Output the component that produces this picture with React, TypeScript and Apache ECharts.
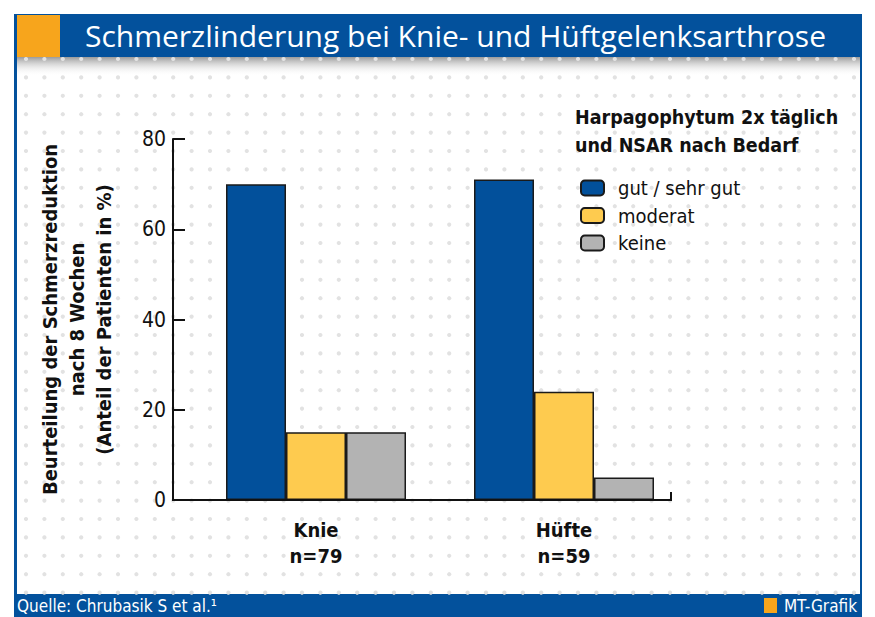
import React, { useEffect, useRef } from "react";
import * as echarts from "echarts";

const titleText = "Schmerzlinderung bei Knie- und Hüftgelenksarthrose";
const legendTitle = "Harpagophytum 2x täglich\nund NSAR nach Bedarf";
const yAxisName = "Beurteilung der Schmerzreduktion\nnach 8 Wochen\n(Anteil der Patienten in %)";
const sourceText = "Quelle: Chrubasik S et al.¹";
const creditText = "MT-Grafik";

const categories = ["Knie\nn=79", "Hüfte\nn=59"];
const seriesNames = ["gut / sehr gut", "moderat", "keine"];
const gutValues = [70, 71];
const moderatValues = [15, 24];
const keineValues = [15, 5];
const seriesColors = ["#02509b", "#fecb4f", "#b3b3b3"];

const BLUE = "#03519c";
const ORANGE = "#f7a51c";
const W = 875;
const H = 617;
const COND = "'Liberation Sans Narrow', 'DejaVu Sans Condensed', 'Roboto', sans-serif";

export default function App() {
  const ref = useRef<HTMLDivElement>(null);
  useEffect(() => {
    document.body.style.margin = "0";
    if (!ref.current) return;
    const chart = echarts.init(ref.current, null, { renderer: "svg" });

    const dots: any[] = [];
    for (let y = 59; y < 594; y += 18.4) {
      for (let x = 26; x < 860; x += 18.4) {
        dots.push({ type: "circle", shape: { cx: x, cy: y, r: 2.1 }, style: { fill: "#e2e2e2" }, silent: true });
      }
    }

    const gridLeft = 192;
    const gridRight = 187;
    const gridTop = 139;
    const gridBottom = 117;
    const axisX0 = 173;
    const axisX1 = 671;
    const axisY = H - gridBottom;

    const valueSets = [gutValues, moderatValues, keineValues];

    chart.setOption({
      animation: false,
      backgroundColor: "#ffffff",
      title: {
        text: titleText,
        left: 80,
        top: 15,
        textStyle: { color: "#ffffff", fontSize: 30, fontWeight: "normal", fontFamily: "'Open Sans', sans-serif" },
      },
      legend: {
        orient: "vertical",
        left: 580,
        top: 177,
        itemWidth: 23,
        itemHeight: 15,
        itemGap: 5.5,
        padding: 0,
        data: seriesNames,
        textStyle: { fontSize: 20, lineHeight: 22, color: "#111", fontFamily: COND, padding: [0, 0, 0, 9] },
      },
      grid: { left: gridLeft, right: gridRight, top: gridTop, bottom: gridBottom },
      xAxis: {
        type: "category",
        data: categories,
        axisLine: { show: false },
        axisTick: { show: false },
        axisLabel: { fontSize: 20, fontWeight: "bold", lineHeight: 26, margin: 17, color: "#111", fontFamily: COND },
      },
      yAxis: {
        type: "value",
        min: 0,
        max: 80,
        interval: 20,
        offset: gridLeft - axisX0,
        name: yAxisName,
        nameLocation: "middle",
        nameRotate: 90,
        nameGap: 56,
        nameTextStyle: { fontSize: 20, fontWeight: "bold", lineHeight: 27, color: "#111", fontFamily: COND, align: "center" },
        axisLine: { show: true, lineStyle: { color: "#111", width: 2 } },
        axisTick: { show: true, inside: true, length: 12, lineStyle: { color: "#111", width: 2 } },
        axisLabel: { fontSize: 21, margin: 7, color: "#111", fontFamily: COND },
        splitLine: { show: false },
      },
      series: seriesNames.map((name, i) => ({
        name,
        type: "bar",
        data: valueSets[i],
        barWidth: 60,
        barGap: "0%",
        itemStyle: { color: seriesColors[i], borderColor: "#1a1a1a", borderWidth: 1.5 },
      })),
      graphic: [
        { type: "group", z: -20, silent: true, children: dots },
        {
          type: "rect", z: -10, silent: true,
          shape: { x: 17, y: 57, width: 843, height: 19 },
          style: {
            fill: new echarts.graphic.LinearGradient(0, 0, 0, 1, [
              { offset: 0, color: "rgba(130,130,130,0.8)" },
              { offset: 1, color: "rgba(255,255,255,0)" },
            ]),
          },
        },
        { type: "rect", z: -5, silent: true, shape: { x: 14, y: 14, width: 848, height: 43 }, style: { fill: BLUE } },
        { type: "rect", z: -4, silent: true, shape: { x: 17, y: 15, width: 43, height: 42 }, style: { fill: ORANGE } },
        { type: "rect", z: -5, silent: true, shape: { x: 14, y: 14, width: 3, height: H - 14 }, style: { fill: BLUE } },
        { type: "rect", z: -5, silent: true, shape: { x: 860, y: 14, width: 2, height: H - 14 }, style: { fill: BLUE } },
        { type: "rect", z: -5, silent: true, shape: { x: 14, y: 594, width: 848, height: H - 594 }, style: { fill: BLUE } },
        { type: "rect", z: -4, silent: true, shape: { x: 764, y: 598, width: 13, height: 15 }, style: { fill: ORANGE } },
        {
          type: "text", silent: true, x: 17, y: 606,
          style: { text: sourceText, fill: "#fff", fontSize: 17, fontFamily: COND, verticalAlign: "middle" },
        },
        {
          type: "text", silent: true, x: 857, y: 606,
          style: { text: creditText, fill: "#fff", fontSize: 17, fontFamily: COND, verticalAlign: "middle", align: "right" },
        },
        {
          type: "text", silent: true, x: 575, y: 103,
          style: { text: legendTitle, fill: "#111", fontSize: 19.5, fontWeight: "bold", lineHeight: 28, fontFamily: COND },
        },
        {
          type: "polyline", z: 10, silent: true,
          shape: { points: [[axisX0 - 1, axisY], [axisX1, axisY], [axisX1, axisY - 8]] },
          style: { stroke: "#111", lineWidth: 2, fill: null },
        },
      ],
    });
    return () => chart.dispose();
  }, []);
  return <div ref={ref} style={{ width: W, height: H }} />;
}
